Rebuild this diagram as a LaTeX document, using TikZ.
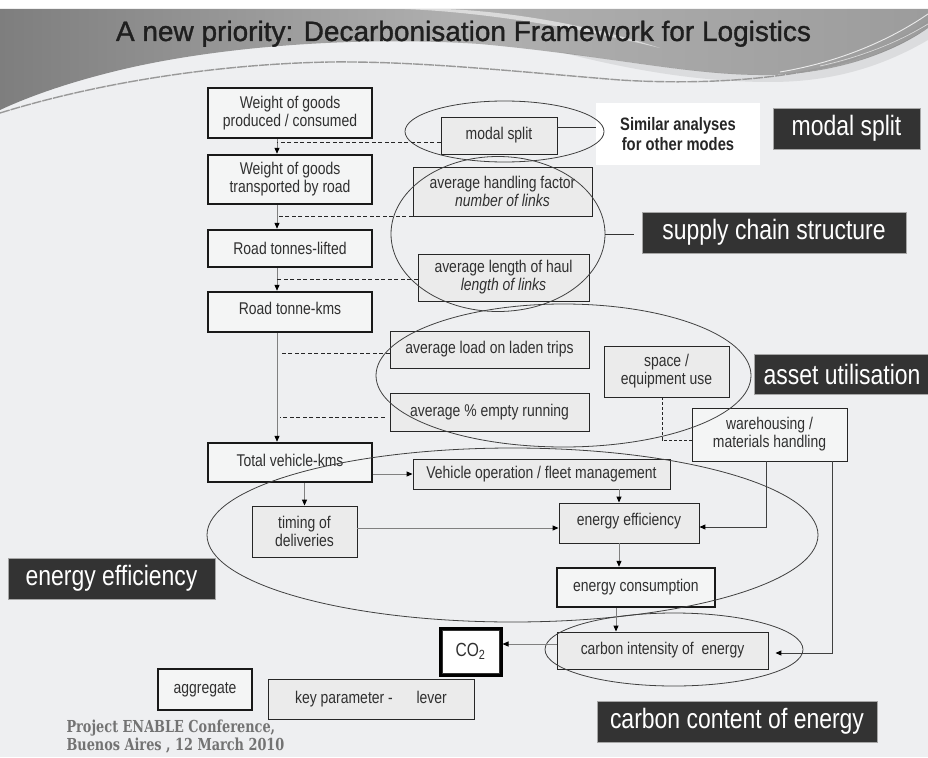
\documentclass[tikz,border=0pt]{standalone}
\usepackage{fontspec}
\setmainfont{Liberation Sans}
\newfontfamily\narrowsf[FakeStretch=0.82]{Liberation Sans}
\newfontfamily\titlesf[FakeBold=1.2]{Liberation Sans}
\newfontfamily\footfont[FakeStretch=0.78]{DejaVu Serif}
\usetikzlibrary{arrows.meta,shapes.geometric,calc}

\definecolor{pagebg}{HTML}{EEEFF1}
\definecolor{aggfill}{HTML}{F4F5F5}
\definecolor{levfill}{HTML}{EBEBEB}
\definecolor{labfill}{HTML}{333333}
\definecolor{inktext}{HTML}{303030}
\definecolor{wirecol}{HTML}{808080}
\definecolor{bandL}{HTML}{7E7E7E}
\definecolor{bandM}{HTML}{B0B0B0}
\definecolor{bandR}{HTML}{9C9C9C}

\tikzset{
  box/.style={draw=black!85, line width=0.9pt, fill=levfill, text=inktext,
    font=\narrowsf\fontsize{17}{18}\selectfont, align=center, inner sep=0pt},
  aggbox/.style={box, fill=aggfill, line width=2.4pt, draw=black!90},
  lab/.style={fill=labfill, draw=black!35, line width=0.8pt, text=white,
    font=\narrowsf\fontsize{28}{30}\selectfont, inner sep=0pt},
  ring/.style={ellipse, draw=black!75, line width=0.8pt, inner sep=0pt},
  flow/.style={draw=wirecol, line width=1pt, -{Triangle[length=6pt,width=5pt,color=black]}},
  darkflow/.style={flow, draw=black!75},
  link/.style={draw=black!80, line width=0.9pt},
  dsh/.style={draw=black!85, line width=0.9pt, dash pattern=on 4pt off 2.5pt},
  foot/.style={font=\footfont\bfseries\fontsize{16.5}{18}\selectfont, text=black!55, anchor=base west},
}

\begin{document}
\begin{tikzpicture}[x=1pt, y=-1pt]
\useasboundingbox (0,0) rectangle (928,757);
\fill[pagebg] (0,0) rectangle (928,757);

% ---- header banner ----
\fill[white] (0,0) rectangle (928,9);
\shade[left color=bandL, right color=bandR, middle color=bandM]
  (0,9) -- (928,9) -- (928,28)
  .. controls (890,55) and (830,74) .. (770,75)
  .. controls (690,76) and (610,56) .. (480,44)
  .. controls (360,36) and (220,46) .. (120,70)
  .. controls (70,82) and (30,96) .. (0,110) -- cycle;
\fill[white, opacity=0.55]
  (405,9) .. controls (480,12) and (570,26) .. (660,48)
  .. controls (580,22) and (500,11) .. (445,9) -- cycle;
\fill[black, opacity=0.08]
  (560,52) .. controls (650,66) and (720,76) .. (780,75)
  .. controls (840,72) and (890,52) .. (928,28) -- (928,40)
  .. controls (880,68) and (830,82) .. (770,82)
  .. controls (700,82) and (630,70) .. (560,52) -- cycle;
\draw[black!40, line width=1.4pt, dash pattern=on 10pt off 1pt]
  (0,113) .. controls (100,82) and (220,64) .. (330,62)
  .. controls (420,61) and (520,72) .. (620,80)
  .. controls (700,85) and (790,80) .. (850,60)
  .. controls (890,46) and (915,30) .. (928,22);
\draw[white, line width=0.9pt, opacity=0.8]
  (780,72) .. controls (840,62) and (890,40) .. (928,14);
\draw[white, line width=0.7pt, opacity=0.6]
  (820,66) .. controls (870,55) and (905,38) .. (928,24);
\node[font=\titlesf\fontsize{28}{32}\selectfont, text=black!88, anchor=base] (title) at (463.5,41)
  {A new priority: Decarbonisation Framework for Logistics};

% ---- aggregate chain ----
\node[aggbox, minimum width=164, minimum height=50] (w1)  at (290,113)   {Weight of goods\\produced / consumed};
\node[aggbox, minimum width=164, minimum height=49] (w2)  at (290,179.5) {Weight of goods\\transported by road};
\node[aggbox, minimum width=164, minimum height=37] (rtl) at (290,248.5) {Road tonnes-lifted};
\node[aggbox, minimum width=164, minimum height=40] (rtk) at (290,312)   {\raisebox{7pt}{Road tonne-kms}};
\node[aggbox, minimum width=164, minimum height=39] (tvk) at (290,462.5) {\raisebox{5pt}{Total vehicle-kms}};

% ---- levers ----
\node[box, minimum width=116, minimum height=37] (ms)  at (499,135.5)   {modal split};
\node[box, minimum width=179, minimum height=49] (ahf) at (502.5,191.5) {average handling factor\\\textit{number of links}};
\node[box, minimum width=171, minimum height=47] (alh) at (503.5,277.5) {average length of haul\\\textit{length of links}};
\node[box, minimum width=199, minimum height=37] (alt) at (489.5,349.5) {average load on laden trips};
\node[box, minimum width=199, minimum height=38] (aer) at (489.5,412)   {average \% empty running};
\node[box, minimum width=125, minimum height=51] (seu) at (666.5,371.5) {space /\\equipment use};
\node[box, fill=aggfill, minimum width=155, minimum height=53] (wmh) at (769.5,434.5) {warehousing /\\materials handling};
\node[box, minimum width=257, minimum height=30] (vofm) at (541.5,474)  {Vehicle operation / fleet management};
\node[box, minimum width=105, minimum height=51] (tod) at (304.5,531.5) {timing of\\deliveries};
\node[box, minimum width=140, minimum height=40] (ee)  at (629,523)     {\raisebox{7pt}{energy efficiency}};
\node[aggbox, minimum width=158, minimum height=39] (ec) at (636,587.5) {\raisebox{3pt}{energy consumption}};
\node[box, minimum width=211, minimum height=37] (cie) at (662.5,650.5) {\raisebox{5pt}{carbon intensity of\ \ energy}};

% ---- CO2 with double frame ----
\node[box, fill=white, line width=3pt, draw=black, minimum width=61, minimum height=47,
  font=\narrowsf\fontsize{19}{20}\selectfont] (co2) at (470.5,651.5) {CO\textsubscript{2}};
\draw[black!80, line width=0.8pt] ([xshift=3.5pt,yshift=-3.5pt]co2.north west) rectangle ([xshift=-3.5pt,yshift=3.5pt]co2.south east);

% ---- key ----
\node[aggbox, minimum width=94, minimum height=41] (agg) at (205,689.5) {\raisebox{4pt}{aggregate}};
\node[box, minimum width=206, minimum height=40] (kpl) at (371,699) {\raisebox{3pt}{key parameter -\hspace{1.4em}lever}};

% ---- note box ----
\node[fill=white, minimum width=164, minimum height=62, align=center, text=black!85,
  font=\narrowsf\bfseries\fontsize{18}{20}\selectfont] (sim) at (678,134) {Similar analyses\\for other modes};

% ---- category labels ----
\node[lab, minimum width=147, minimum height=41] (lms)  at (846.5,128.5) {modal split};
\node[lab, minimum width=264, minimum height=41] (lscs) at (774,232.5)   {supply chain structure};
\node[lab, minimum width=176, minimum height=40] (lau)  at (842,374)     {asset utilisation};
\node[lab, minimum width=207, minimum height=41] (lee)  at (111.5,578.5) {energy efficiency};
\node[lab, minimum width=280, minimum height=41] (lcce) at (737,721.5)   {carbon content of energy};

% ---- grouping ellipses ----
\node[ring, minimum width=199, minimum height=61]  (ems) at (504.5,131.5) {};
\node[ring, minimum width=214, minimum height=155] (esc) at (498,234)     {};
\node[ring, minimum width=375, minimum height=143] (eau) at (563.5,375.5) {};
\node[ring, minimum width=611, minimum height=174] (eee) at (512.5,535)   {};
\node[ring, minimum width=258, minimum height=73]  (ece) at (674,649.5)   {};

% ---- aggregate chain arrows ----
\coordinate (spine) at (277,0);
\draw[flow] (w1.south -| spine)  -- (w2.north -| spine);
\draw[flow] (w2.south -| spine)  -- (rtl.north -| spine);
\draw[flow] (rtl.south -| spine) -- (rtk.north -| spine);
\draw[flow] (rtk.south -| spine) -- (tvk.north -| spine);

% ---- levers acting on the chain ----
\coordinate (d1) at ([yshift=-6.5pt]ms.west);
\draw[dsh] (d1) -- (d1 -| spine);
\draw[dsh] (ahf.south west) -- (ahf.south west -| spine);
\coordinate (d3) at ([yshift=-1.5pt]alh.west);
\draw[dsh] (d3) -- (d3 -| spine);
\coordinate (d4) at ([yshift=-3.5pt]alt.west);
\draw[dsh] (d4) -- ([xshift=3pt]d4 -| spine);
\coordinate (d5) at ([xshift=-5pt,yshift=-5pt]aer.west);
\draw[dsh] (d5) -- ([xshift=3pt]d5 -| spine);

% ---- links to notes and labels ----
\coordinate (m1) at ([yshift=8.5pt]ms.east);
\draw[link] (m1) -- (m1 -| sim.west);
\coordinate (s1) at (esc.east -| lscs.west);
\draw[link] (esc.east) -- ([xshift=-8pt]s1);

% ---- energy chain ----
\draw[flow] (vofm.west -| tvk.east) -- (vofm.west);
\draw[flow] (tvk.south -| tod.north) -- (tod.north);
\coordinate (t1) at ([yshift=3.5pt]tod.east);
\draw[flow] (t1) -- (t1 -| ee.west);
\coordinate (v1) at ([xshift=-10pt]ee.north);
\draw[flow] (v1 |- vofm.south) -- (v1);
\coordinate (v2) at ([xshift=-10pt]ee.south);
\draw[flow] (v2) -- (v2 |- ec.north);
\coordinate (v3) at ([xshift=-20pt]ec.south);
\draw[flow] (v3) -- (v3 |- cie.north);
\coordinate (h1) at ([yshift=6.5pt]cie.west);
\draw[flow] (h1) -- (h1 -| co2.east);
\draw[darkflow] ([xshift=-3.5pt]wmh.south) |- ([yshift=-4pt]ee.east);
\draw[darkflow] ([xshift=62.5pt]wmh.south) |- ([xshift=7pt,yshift=-2.5pt]cie.east);
\draw[dsh, dash pattern=on 3pt off 2pt] ([xshift=-4.5pt]seu.south) |- ([yshift=-5.5pt]wmh.west);

% ---- footer ----
\node[foot] (foot1) at (63,732) {Project ENABLE Conference,};
\node[foot] (foot2) at (63,750) {Buenos Aires , 12 March 2010};
\end{tikzpicture}
\end{document}
